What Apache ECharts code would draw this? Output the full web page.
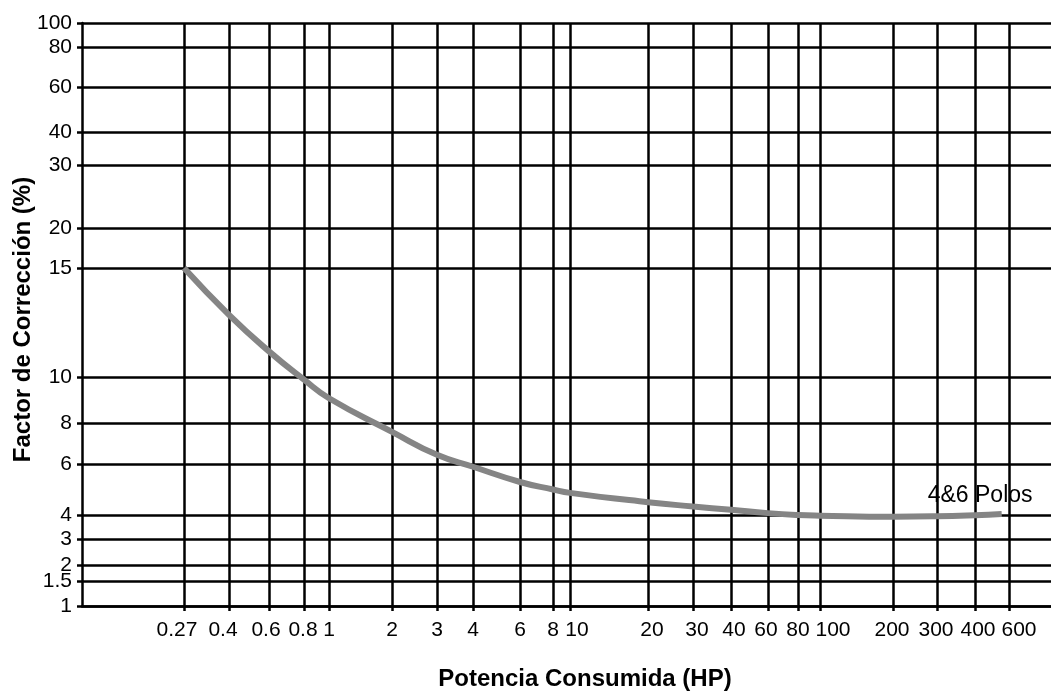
<!DOCTYPE html>
<html>
<head>
<meta charset="utf-8">
<script src="https://cdn.jsdelivr.net/npm/echarts@6/dist/echarts.min.js"></script>
<style>
  html, body { margin: 0; padding: 0; background: #fff; }
  #chart { width: 1051px; height: 692px; }
</style>
</head>
<body>
<div id="chart"></div>
<script>
// valores
const xTickLabels = [0.27, 0.4, 0.6, 0.8, 1, 2, 3, 4, 6, 8, 10, 20, 30, 40, 60, 80, 100, 200, 300, 400, 600];
const yTickLabels = [1, 1.5, 2, 3, 4, 6, 8, 10, 15, 20, 30, 40, 60, 80, 100];
const potencia = [0.27, 0.4, 0.6, 0.8, 1, 2, 3, 4, 6, 8, 10, 20, 30, 40, 60, 80, 100, 200, 300, 400, 550];
const factor = [15, 12.6, 11.0, 9.87, 9.02, 7.52, 6.4, 5.87, 5.2, 4.9, 4.77, 4.43, 4.28, 4.17, 4.06, 4.0, 3.97, 3.92, 3.94, 3.99, 4.03];
const serieNombre = '4&6 Polos';

// el papel del original no es logaritmico exacto: distancia de cada linea al eje (px)
const xTickOffset = [102, 147, 187, 222, 247, 310, 355, 391, 438, 471, 488, 566, 611, 649, 686, 716, 738, 811, 855, 893, 927];
const yTickOffset = [0, 25, 41, 67, 91, 142, 183, 229, 338, 378, 441, 474, 519, 559, 583];
// desplazamiento horizontal de algunas etiquetas del eje x (para que no se pisen)
const xLabelNudge = [-7, -6, -3, -1, 0, 0, 0, 0, 0, 0, 7, 4, 4, 3, -2, 0, 13, -1, -1, 3, 10];
const plotW = 969, plotH = 583;

// interpolacion logaritmica entre lineas del papel
function paper(v, ticks, offs) {
  const lv = Math.log10(v);
  for (let i = 0; i < ticks.length - 1; i++) {
    const a = Math.log10(ticks[i]), b = Math.log10(ticks[i + 1]);
    if (lv <= b || i === ticks.length - 2) {
      return offs[i] + (lv - a) / (b - a) * (offs[i + 1] - offs[i]);
    }
  }
}
function tickIndex(val, offs) {
  for (let i = 0; i < offs.length; i++) {
    if (Math.abs(offs[i] - val) < 0.5) return i;
  }
  return -1;
}

const data = potencia.map((p, i) => [
  paper(p, xTickLabels, xTickOffset),
  paper(factor[i], yTickLabels, yTickOffset)
]);

const black = { color: '#000', width: 2.5 };
const font = 'Liberation Sans, Arial, sans-serif';

// un estilo rich por etiqueta del eje x
const xRich = {};
xLabelNudge.forEach((d, i) => {
  xRich['t' + i] = {
    fontFamily: font, fontSize: 21, color: '#000',
    padding: d >= 0 ? [0, 0, 0, 2 * d] : [0, -2 * d, 0, 0]
  };
});

const myChart = echarts.init(document.getElementById('chart'));
myChart.setOption({
  animation: false,
  backgroundColor: '#fff',
  grid: { left: 82, right: 0, top: 23, bottom: 86, outerBoundsMode: 'none', containLabel: false },
  xAxis: {
    type: 'value',
    min: 0,
    max: plotW,
    name: 'Potencia Consumida (HP)',
    nameLocation: 'middle',
    nameGap: 61,
    nameMoveOverlap: false,
    nameTextStyle: { fontFamily: font, fontWeight: 'bold', fontSize: 24, color: '#000', padding: [0, 0, 0, 37] },
    axisLine: { show: true, onZero: false, lineStyle: black },
    axisTick: { show: true, customValues: xTickOffset, length: 5, lineStyle: black },
    axisLabel: {
      customValues: xTickOffset,
      hideOverlap: false,
      showMinLabel: true,
      showMaxLabel: true,
      margin: 14,
      fontFamily: font,
      fontSize: 21,
      color: '#000',
      rich: xRich,
      formatter: v => {
        const i = tickIndex(v, xTickOffset);
        return i < 0 ? '' : '{t' + i + '|' + xTickLabels[i] + '}';
      }
    },
    splitLine: { show: true, lineStyle: black }
  },
  yAxis: {
    type: 'value',
    min: 0,
    max: plotH,
    name: 'Factor de Corrección (%)',
    nameLocation: 'middle',
    nameGap: 47,
    nameMoveOverlap: false,
    nameTextStyle: { fontFamily: font, fontWeight: 'bold', fontSize: 24, color: '#000', padding: [0, 10, 0, 0] },
    axisLine: { show: true, onZero: false, lineStyle: black },
    axisTick: { show: true, customValues: yTickOffset, length: 5, lineStyle: black },
    axisLabel: {
      customValues: yTickOffset,
      hideOverlap: false,
      showMinLabel: true,
      showMaxLabel: true,
      margin: 10,
      fontFamily: font,
      fontSize: 21,
      color: '#000',
      formatter: v => {
        const i = tickIndex(v, yTickOffset);
        return i < 0 ? '' : String(yTickLabels[i]);
      }
    },
    splitLine: { show: true, lineStyle: black }
  },
  series: [
    {
      name: serieNombre,
      type: 'line',
      data: data,
      smooth: 0.5,
      symbol: 'none',
      lineStyle: { color: '#858585', width: 6 },
      endLabel: {
        show: true,
        formatter: serieNombre,
        offset: [-82, -18],
        fontFamily: font,
        fontSize: 23,
        color: '#000'
      }
    }
  ]
});
window.addEventListener('resize', function () {
  myChart.resize();
}, false);
</script>
</body>
</html>
